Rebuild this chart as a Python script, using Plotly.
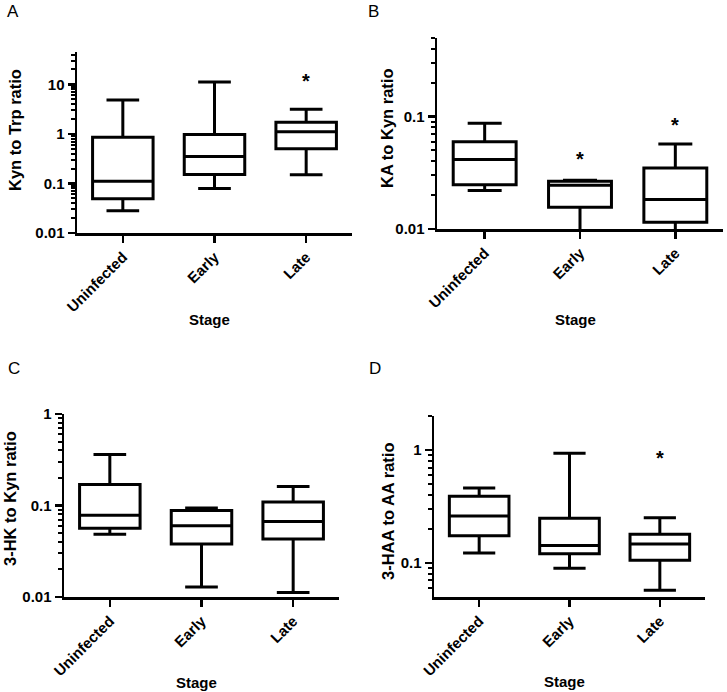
import numpy as np
import plotly.graph_objects as go

W, H = 727, 692

stages = ["Uninfected", "Early", "Late"]

# Panel A: Kyn to Trp ratio
a_min = [0.028, 0.079, 0.149]
a_q1 = [0.049, 0.152, 0.50]
a_med = [0.111, 0.35, 1.11]
a_q3 = [0.86, 0.97, 1.72]
a_max = [4.84, 11.1, 3.14]
a_star = [None, None, 13.8]
a_ylim = [0.01, 45]
a_ticks = [0.01, 0.1, 1, 10]

# Panel B: KA to Kyn ratio
b_min = [0.022, 0.0095, 0.0095]
b_q1 = [0.0248, 0.0156, 0.0115]
b_med = [0.0416, 0.0245, 0.0183]
b_q3 = [0.0597, 0.0266, 0.0349]
b_max = [0.0873, 0.0272, 0.0569]
b_star = [None, 0.0458, 0.092]
b_ylim = [0.01, 0.5]
b_ticks = [0.01, 0.1]

# Panel C: 3-HK to Kyn ratio
c_min = [0.0485, 0.0129, 0.0112]
c_q1 = [0.0565, 0.038, 0.0431]
c_med = [0.0783, 0.0599, 0.0668]
c_q3 = [0.170, 0.088, 0.109]
c_max = [0.361, 0.094, 0.161]
c_star = [None, None, None]
c_ylim = [0.01, 1]
c_ticks = [0.01, 0.1, 1]

# Panel D: 3-HAA to AA ratio
d_min = [0.1225, 0.090, 0.0573]
d_q1 = [0.174, 0.121, 0.106]
d_med = [0.26, 0.143, 0.147]
d_q3 = [0.390, 0.249, 0.180]
d_max = [0.462, 0.935, 0.251]
d_star = [None, None, 0.92]
d_ylim = [0.05, 2]
d_ticks = [0.1, 1]

y_titles = ["Kyn to Trp ratio", "KA to Kyn ratio", "3-HK to Kyn ratio", "3-HAA to AA ratio"]
x_title = "Stage"
letters = ["A", "B", "C", "D"]

panels = [
    dict(mn=a_min, q1=a_q1, med=a_med, q3=a_q3, mx=a_max, star=a_star, ylim=a_ylim, ticks=a_ticks),
    dict(mn=b_min, q1=b_q1, med=b_med, q3=b_q3, mx=b_max, star=b_star, ylim=b_ylim, ticks=b_ticks),
    dict(mn=c_min, q1=c_q1, med=c_med, q3=c_q3, mx=c_max, star=c_star, ylim=c_ylim, ticks=c_ticks),
    dict(mn=d_min, q1=d_q1, med=d_med, q3=d_q3, mx=d_max, star=d_star, ylim=d_ylim, ticks=d_ticks),
]

# layout geometry in page pixels: (left, right, top, bottom)
boxes_px = [(77, 352, 52, 233), (437, 723, 38, 229), (64, 339, 414, 597), (434, 705, 416, 597)]
ytitle_px = [(15, 130), (387, 129), (10, 499), (388, 511)]
xtitle_py = [319, 319, 682, 681]
letter_px = [(5, 0), (366, 0), (6, 357), (367, 357)]

def fx(px):
    return px / W

def fy(py):
    return 1 - py / H

FONT = "Arial, Liberation Sans, sans-serif"
fig = go.Figure()
annotations = []

for i, p in enumerate(panels):
    n = "" if i == 0 else str(i + 1)
    xa, ya = "x" + n, "y" + n
    fig.add_trace(go.Box(
        x=stages, q1=p["q1"], median=p["med"], q3=p["q3"],
        lowerfence=p["mn"], upperfence=p["mx"],
        xaxis=xa, yaxis=ya, boxpoints=False,
        width=0.66, whiskerwidth=0.54,
        line=dict(color="black", width=3), fillcolor="white",
        showlegend=False, hoverinfo="skip",
    ))
    l, r, t, b = boxes_px[i]
    lo, hi = p["ylim"]
    minor_vals = []
    for dec in range(-3, 2):
        for k in range(2, 10):
            v = k * 10.0 ** dec
            if lo < v <= hi * 1.0001:
                minor_vals.append(v)
    fig.update_layout(**{
        "xaxis" + n: dict(
            domain=[fx(l), min(fx(r), 1)], anchor=ya, type="category", automargin=False,
            range=[-0.5, 2.5], tickangle=-45, ticks="outside", ticklen=7,
            tickwidth=2.5, tickcolor="black", showline=True, linewidth=2.5,
            linecolor="black", showgrid=False, zeroline=False,
            tickfont=dict(family=FONT, size=15, color="black", weight="bold"),
        ),
        "yaxis" + n: dict(
            domain=[fy(b), fy(t)], anchor=xa, type="log", automargin=False,
            range=[np.log10(lo), np.log10(hi)],
            tickvals=p["ticks"], ticktext=[str(v) for v in p["ticks"]],
            ticks="outside", ticklen=7, tickwidth=2.5, tickcolor="black",
            showline=True, linewidth=2.5, linecolor="black",
            showgrid=False, zeroline=False,
            tickfont=dict(family=FONT, size=15, color="black", weight="bold"),
            minor=dict(tickvals=minor_vals, ticks="outside", ticklen=4,
                       tickwidth=2, tickcolor="black", showgrid=False),
        ),
    })
    for j, s in enumerate(p["star"]):
        if s is not None:
            annotations.append(dict(
                x=stages[j], y=np.log10(s), xref=xa, yref=ya, text="*",
                showarrow=False, yshift=-4,
                font=dict(family=FONT, size=20, color="black", weight="bold"),
            ))
    # y title
    tx, ty = ytitle_px[i]
    annotations.append(dict(
        x=fx(tx), y=fy(ty), xref="paper", yref="paper", text=y_titles[i],
        textangle=-90, showarrow=False, xanchor="center", yanchor="middle",
        font=dict(family=FONT, size=16.5, color="black", weight="bold"),
    ))
    # x title
    annotations.append(dict(
        x=fx((l + r) / 2 - 5), y=fy(xtitle_py[i]), xref="paper", yref="paper",
        text=x_title, showarrow=False, xanchor="center", yanchor="middle",
        font=dict(family=FONT, size=15, color="black", weight="bold"),
    ))
    # panel letter
    lx, ly = letter_px[i]
    annotations.append(dict(
        x=fx(lx), y=fy(ly), xref="paper", yref="paper", text=letters[i],
        showarrow=False, xanchor="left", yanchor="top",
        font=dict(family=FONT, size=17, color="black"),
    ))

fig.update_layout(
    width=W, height=H, autosize=False,
    margin=dict(l=0, r=0, t=0, b=0),
    paper_bgcolor="white", plot_bgcolor="white",
    annotations=annotations,
)

fig.write_html(
    "out.html",
    config={"displayModeBar": False, "staticPlot": True},
    post_script="document.body.style.margin='0px';document.body.style.overflow='hidden';",
)
